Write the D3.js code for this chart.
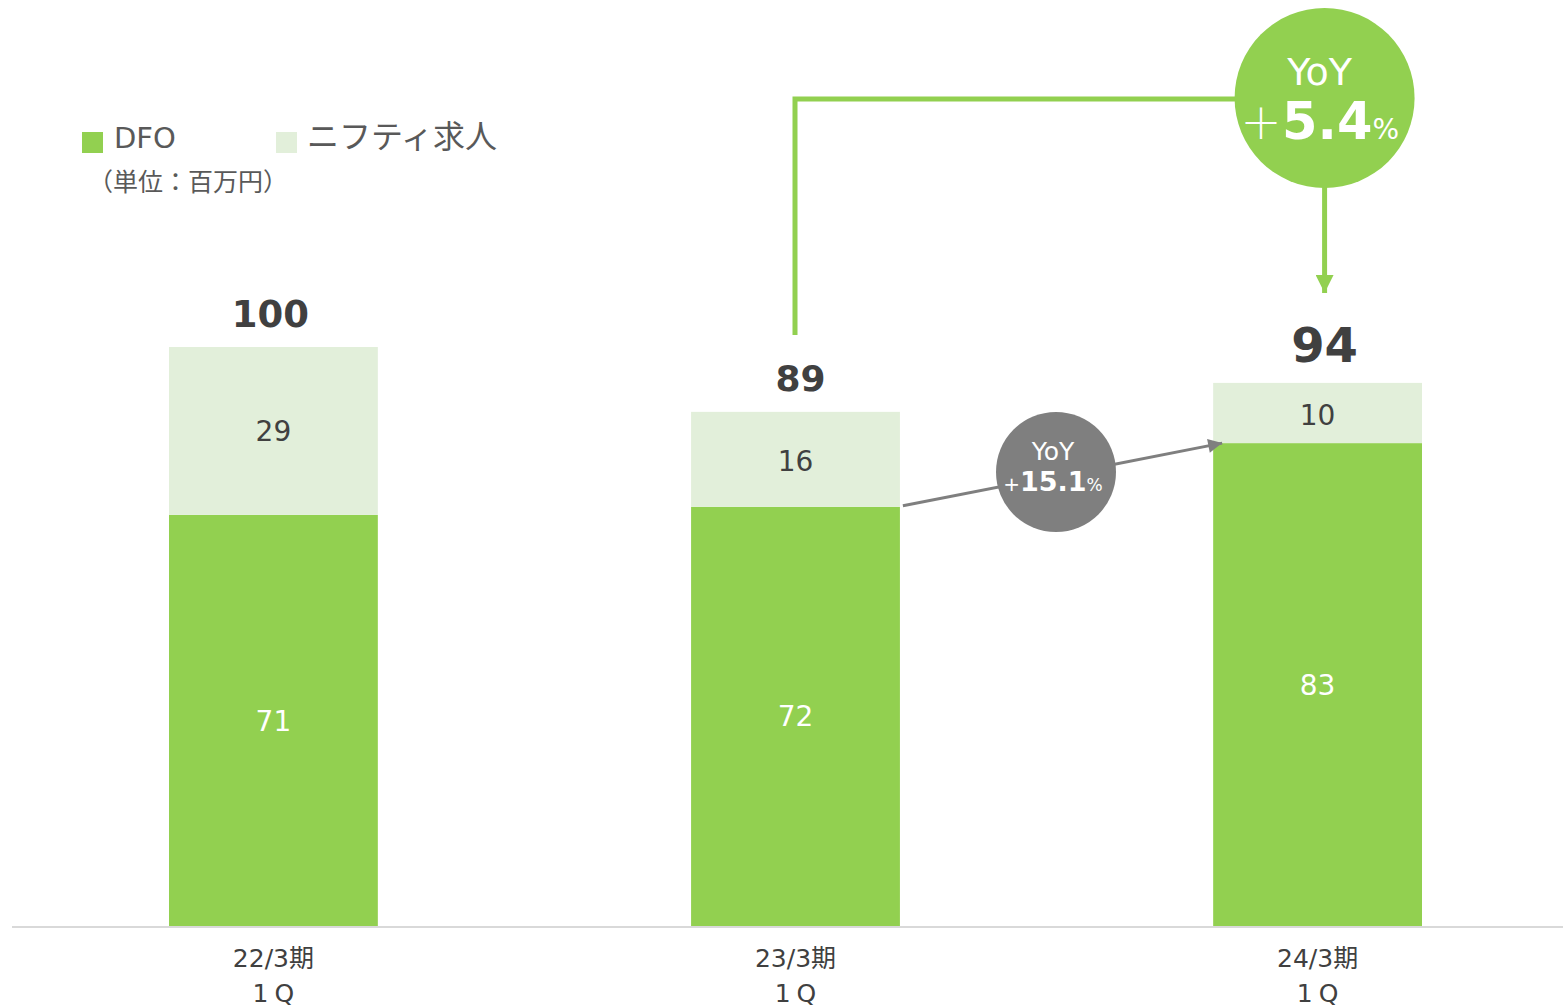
<!DOCTYPE html>
<html>
<head>
<meta charset="utf-8">
<script src="https://cdn.jsdelivr.net/npm/d3@7"></script>
<style>
  html, body { margin: 0; padding: 0; background: #fff; }
  svg { display: block; font-family: "DejaVu Sans", "Noto Sans CJK JP", sans-serif; }
</style>
</head>
<body>
<svg id="chart" width="1563" height="1007"></svg>
<script>
// Quarterly revenue by service (million yen)
const periods = ["22/3期", "23/3期", "24/3期"];
const quarterLabel = "1Q";
const dfo = [71, 72.4, 83.4];
const nifty = [29, 16.4, 10.4];
const seriesNames = ["DFO", "ニフティ求人"];
const unitLabel = "（単位：百万円）";
const yoyTotal = { head: "YoY", sign: "＋", value: "5.4", unit: "%" };
const yoyDfo = { head: "YoY", sign: "+", value: "15.1", unit: "%" };

const GREEN = "#92D050";
const LIGHT = "#E2EFDA";
const GREY = "#7F7F7F";
const TEXT = "#404040";

const svg = d3.select("#chart");
const fmt = d3.format(".0f");

const x = d3.scaleBand().domain(periods).range([169, 1422]).paddingInner(0.6).paddingOuter(0);
const y = d3.scaleLinear().domain([0, 100]).range([926, 347]);

const rows = periods.map((p, i) => ({ period: p, dfo: dfo[i], nifty: nifty[i], total: dfo[i] + nifty[i] }));
const stack = d3.stack().keys(["dfo", "nifty"])(rows);
const fills = { dfo: GREEN, nifty: LIGHT };

// stacked bars
const layers = svg.append("g").selectAll("g").data(stack).join("g").attr("fill", d => fills[d.key]);
layers.selectAll("rect").data(d => d).join("rect")
  .attr("x", d => x(d.data.period))
  .attr("width", x.bandwidth())
  .attr("y", d => y(d[1]))
  .attr("height", d => y(d[0]) - y(d[1]));

// segment values
layers.selectAll("text").data(d => d.map(s => Object.assign(s, { key: d.key }))).join("text")
  .attr("x", d => x(d.data.period) + x.bandwidth() / 2)
  .attr("y", d => (y(d[0]) + y(d[1])) / 2 + (d.key === "nifty" && d.data.period !== periods[0] ? 2 : 0))
  .attr("dy", "0.36em")
  .attr("text-anchor", "middle")
  .attr("font-size", 28)
  .attr("fill", d => d.key === "dfo" ? "#fff" : TEXT)
  .text(d => fmt(d[1] - d[0]));

// totals
const totalSizes = [37, 36, 48];
svg.append("g").selectAll("text").data(rows).join("text")
  .attr("x", (d, i) => x(d.period) + x.bandwidth() / 2 + [-3, 5, 7][i])
  .attr("y", (d, i) => [327, 391, 362][i])
  .attr("text-anchor", "middle")
  .attr("font-size", (d, i) => totalSizes[i])
  .attr("font-weight", "bold")
  .attr("fill", TEXT)
  .text(d => fmt(d.total));

// baseline
svg.append("line")
  .attr("x1", 12).attr("x2", 1563)
  .attr("y1", y(0) + 1).attr("y2", y(0) + 1)
  .attr("stroke", "#D9D9D9").attr("stroke-width", 2);

// category labels
const cat = svg.append("g").selectAll("text").data(periods).join("text")
  .attr("text-anchor", "middle")
  .attr("font-size", 25)
  .attr("fill", TEXT);
cat.append("tspan")
  .attr("x", d => x(d) + x.bandwidth() / 2)
  .attr("y", 967)
  .text(d => d);
cat.append("tspan")
  .attr("x", d => x(d) + x.bandwidth() / 2 + 3)
  .attr("y", 1002)
  .attr("letter-spacing", 6)
  .text(quarterLabel);

// legend
const legend = svg.append("g");
[[82, GREEN], [276, LIGHT]].forEach(([lx, c], i) => {
  legend.append("rect").attr("x", lx).attr("y", 132).attr("width", 21).attr("height", 21).attr("fill", c);
  legend.append("text")
    .attr("x", lx + (i === 0 ? 32 : 31)).attr("y", 148)
    .attr("font-size", i === 0 ? 29 : 32)
    .attr("fill", "#595959")
    .text(seriesNames[i]);
});
legend.append("text")
  .attr("x", 88).attr("y", 191)
  .attr("font-size", 25)
  .attr("fill", "#595959")
  .text(unitLabel);

// arrow markers
const defs = svg.append("defs");
defs.append("marker")
  .attr("id", "headGreen").attr("viewBox", "0 0 10 10")
  .attr("refX", 10).attr("refY", 5)
  .attr("markerUnits", "userSpaceOnUse")
  .attr("markerWidth", 18).attr("markerHeight", 18)
  .attr("orient", "auto")
  .append("path").attr("d", "M0,0 L10,5 L0,10 Z").attr("fill", GREEN);
defs.append("marker")
  .attr("id", "headGrey").attr("viewBox", "0 0 10 10")
  .attr("refX", 10).attr("refY", 5)
  .attr("markerUnits", "userSpaceOnUse")
  .attr("markerWidth", 16).attr("markerHeight", 14)
  .attr("orient", "auto")
  .append("path").attr("d", "M0,0 L10,5 L0,10 Z").attr("fill", GREY);

// two-line badge label: heading on top, signed value below
function badgeText(cx, y1, y2, spec, sizes) {
  svg.append("text").attr("text-anchor", "middle").attr("fill", "#fff")
    .attr("x", cx).attr("y", y1).attr("font-size", sizes.head).text(spec.head);
  const t = svg.append("text").attr("text-anchor", "middle").attr("fill", "#fff")
    .attr("x", cx).attr("y", y2);
  const s = t.append("tspan").attr("font-size", sizes.sign).text(spec.sign);
  if (sizes.signFont) s.attr("font-family", sizes.signFont).attr("font-weight", 300);
  t.append("tspan").attr("font-size", sizes.value).attr("font-weight", "bold").text(spec.value);
  t.append("tspan").attr("font-size", sizes.unit).text(spec.unit);
}

// total YoY bracket: from 23/3 bar up and across to the badge, then down to 24/3
const c2 = x(periods[1]) + x.bandwidth() / 2;
const c3 = x(periods[2]) + x.bandwidth() / 2;
const badgeG = { cx: c3 + 7, cy: 98, r: 90 };
svg.append("path")
  .attr("d", `M${c2 - 0.5},335 V${badgeG.cy + 1} H${badgeG.cx}`)
  .attr("fill", "none").attr("stroke", GREEN).attr("stroke-width", 5);
svg.append("line")
  .attr("x1", badgeG.cx).attr("x2", badgeG.cx)
  .attr("y1", badgeG.cy + badgeG.r - 2).attr("y2", 293)
  .attr("stroke", GREEN).attr("stroke-width", 5)
  .attr("marker-end", "url(#headGreen)");
svg.append("circle").attr("cx", badgeG.cx).attr("cy", badgeG.cy).attr("r", badgeG.r).attr("fill", GREEN);
badgeText(badgeG.cx - 5, 85, 139, yoyTotal, { head: 38, sign: 42, value: 51, unit: 28, signFont: "Noto Sans CJK JP" });

// DFO YoY arrow between DFO segment tops
const x2end = x(periods[1]) + x.bandwidth();
const x3start = x(periods[2]);
svg.append("line")
  .attr("x1", x2end + 3).attr("y1", y(dfo[1]) - 1)
  .attr("x2", x3start + 9).attr("y2", y(dfo[2]))
  .attr("stroke", GREY).attr("stroke-width", 3)
  .attr("marker-end", "url(#headGrey)");
const badgeS = { cx: 1056, cy: 472, r: 60 };
svg.append("circle").attr("cx", badgeS.cx).attr("cy", badgeS.cy).attr("r", badgeS.r).attr("fill", GREY);
badgeText(badgeS.cx - 3, 460, 491, yoyDfo, { head: 25, sign: 20, value: 27, unit: 17 });
</script>
</body>
</html>
